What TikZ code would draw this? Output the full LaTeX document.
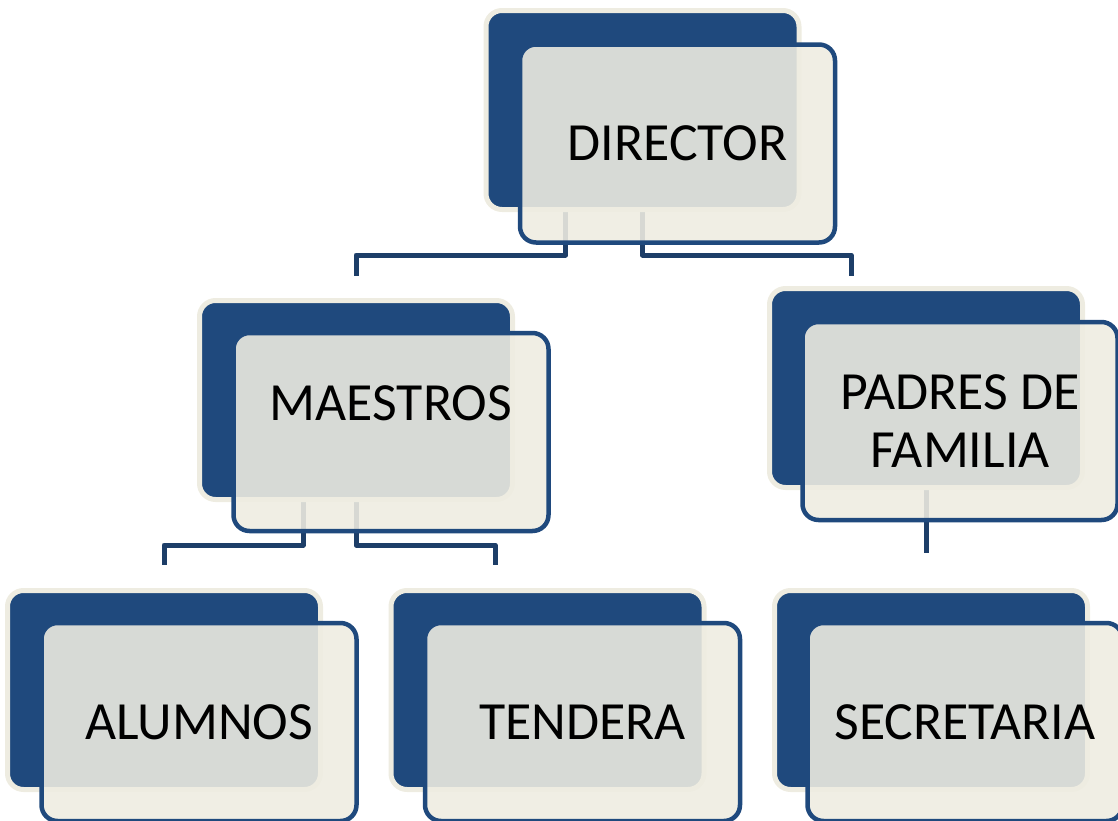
\documentclass[tikz,border=0pt]{standalone}
\usepackage{fontspec}
\setmainfont{Carlito}
\usetikzlibrary{backgrounds}

\newlength{\du}
\setlength{\du}{0.75pt}
\definecolor{orgblue}{rgb}{0.121569, 0.286275, 0.490196}
\definecolor{orgcream}{rgb}{0.933333, 0.925490, 0.882353}
\definecolor{orgline}{rgb}{0.113725, 0.243137, 0.407843}

\begin{document}
\begin{tikzpicture}[yscale=-1,
  backbox/.style={rectangle, rounded corners=16\du, fill=orgblue, draw=orgcream,
    line width=5\du, minimum width=313\du, minimum height=199\du, inner sep=0pt},
  frontbox/.style={rectangle, rounded corners=16\du, fill=orgcream, fill opacity=0.89,
    text opacity=1, draw=orgblue, line width=4.5\du, minimum width=315\du,
    minimum height=198\du, inner sep=0pt, align=center,
    font=\fontsize{40.3}{43.5}\selectfont},
  link/.style={draw=orgline, line width=5\du, line join=round}]
\useasboundingbox (0\du,0\du) rectangle (1118\du,821\du);
% director
\node[backbox] (director-back) at (642.500000\du,110.000000\du){};
\node[frontbox] (director) at (677.500000\du,143.500000\du){DIRECTOR};
% maestros
\node[backbox] (maestros-back) at (356.000000\du,400.000000\du){};
\node[frontbox] (maestros) at (391.000000\du,432.000000\du){MAESTROS\\\mbox{}};
% padres de familia
\node[backbox] (padres-back) at (926.000000\du,388.000000\du){};
\node[frontbox] (padres) at (960.000000\du,421.000000\du){PADRES DE\\FAMILIA};
% alumnos
\node[backbox] (alumnos-back) at (164.000000\du,690.000000\du){};
\node[frontbox] (alumnos) at (199.000000\du,722.000000\du){ALUMNOS};
% tendera
\node[backbox] (tendera-back) at (547.500000\du,690.000000\du){};
\node[frontbox] (tendera) at (582.500000\du,722.000000\du){TENDERA};
% secretaria
\node[backbox] (secretaria-back) at (931.000000\du,690.000000\du){};
\node[frontbox] (secretaria) at (965.000000\du,722.000000\du){SECRETARIA};
% free ends of the links
\coordinate (maestros-in) at (356.000000\du,276.000000\du);
\coordinate (padres-in) at (851.000000\du,276.000000\du);
\coordinate (alumnos-in) at (164.000000\du,565.000000\du);
\coordinate (tendera-in) at (495.000000\du,565.000000\du);
\coordinate (secretaria-in) at (926.000000\du,553.000000\du);
\begin{pgfonlayer}{background}
\draw[link] ([xshift=-77\du]director-back.south) -- ++(0,43\du) -| (maestros-in);
\draw[link] (director-back.south) -- ++(0,43\du) -| (padres-in);
\draw[link] ([xshift=-53\du]maestros-back.south) -- ++(0,43\du) -| (alumnos-in);
\draw[link] (maestros-back.south) -- ++(0,43\du) -| (tendera-in);
\draw[link] (padres-back.south) -- (secretaria-in);
\end{pgfonlayer}
\end{tikzpicture}
\end{document}
